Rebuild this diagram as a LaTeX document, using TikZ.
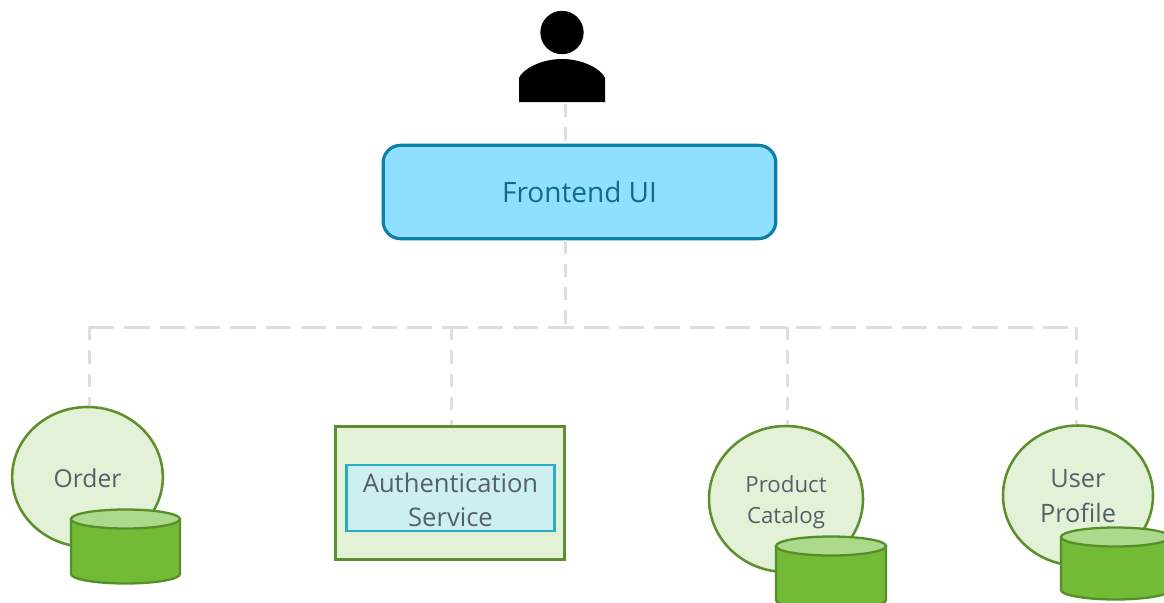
\documentclass[tikz,border=0pt]{standalone}
\usepackage{fontspec}
\setmainfont{Open Sans}
\definecolor{dashgray}{HTML}{DEDEDE}
\definecolor{uiborder}{HTML}{0E7FA6}
\definecolor{uifill}{HTML}{8FE0FF}
\definecolor{uitext}{HTML}{0F6A8C}
\definecolor{grnborder}{HTML}{5E8F2E}
\definecolor{grnfill}{HTML}{E3F1D7}
\definecolor{dbfill}{HTML}{73BA37}
\definecolor{dbtop}{HTML}{ACD98C}
\definecolor{dbborder}{HTML}{558F28}
\definecolor{innerborder}{HTML}{26AEC9}
\definecolor{innerfill}{HTML}{CDEFF2}
\definecolor{gtext}{HTML}{556068}
\tikzset{
  busline/.style={draw=dashgray,line width=2.25pt,dash pattern=on 19pt off 7.5pt},
  dropline/.style={draw=dashgray,line width=2.25pt,dash pattern=on 10pt off 7.5pt},
  svc/.style={draw=grnborder,fill=grnfill,line width=1.9pt,ellipse,inner sep=0pt},
  dbbody/.style={draw=dbborder,fill=dbfill,line width=1.7pt},
  dbcap/.style={draw=dbborder,fill=dbtop,line width=1.7pt},
}
\usetikzlibrary{shapes.geometric,calc}
\newcommand{\dbcyl}[4]{% left, right, cap centre y, bottom side y
  \path[dbbody] (#1,#3) -- (#1,#4) arc[start angle=180,end angle=0,x radius={(#2-#1)/2},y radius=9.5] -- (#2,#3) -- cycle;
  \path[dbcap] ({(#1+#2)/2},#3) ellipse[x radius={(#2-#1)/2},y radius=9.5];
}
\begin{document}
\begin{tikzpicture}[x=0.75pt,y=-0.75pt]
\useasboundingbox (0,0) rectangle (1164,603);
\fill[white] (0,0) rectangle (1164,603);

% person
\node[circle,fill=black,minimum size=32.5pt,inner sep=0pt] (head) at (562,32.5) {};
\fill[black] (519,102) -- (519,78) .. controls (522,70) and (540,59) .. (562,59) .. controls (584,59) and (602,70) .. (605,78) -- (605,102) -- cycle;
\coordinate (userbase) at (565,104);

% nodes
\node[draw=uiborder,fill=uifill,line width=2.4pt,rounded corners=13pt,minimum width=294.5pt,minimum height=70pt,inner sep=0pt,text=uitext,font=\fontsize{21}{25}\selectfont] (frontend) at (579.5,192) {Frontend UI};

\coordinate (busF) at (565,327);
\coordinate (busO) at (89,327);
\coordinate (busA) at (451,327);
\coordinate (busP) at (787,327);
\coordinate (busU) at (1076,327);

\node[svc,minimum width=113pt,minimum height=105pt] (order) at (87.5,477) {};
\node[svc,minimum width=115.5pt,minimum height=109.5pt] (catalog) at (786,499) {};
\node[svc,minimum width=112.5pt,minimum height=105pt] (profile) at (1078,495.5) {};
\node[draw=grnborder,fill=grnfill,line width=1.9pt,minimum width=171.5pt,minimum height=100pt,inner sep=0pt] (auth) at (450,493) {};
\node[draw=innerborder,fill=innerfill,line width=1.7pt,minimum width=156pt,minimum height=49pt,inner sep=0pt] (authin) at (450.5,498) {};

% connectors
\draw[dropline] (userbase) -- (userbase |- frontend.north);
\draw[dropline] (busF |- frontend.south) -- (busF);
\draw[busline] (busO) -- (busU);
\draw[dropline] (busO) -- (busO |- order.north);
\draw[dropline] (busA) -- (busA |- auth.north);
\draw[dropline] (busP) -- (busP |- catalog.north);
\draw[dropline] (busU) -- (busU |- profile.north);

% labels
\node[text=gtext,align=center,font=\fontsize{19.2}{25.5}\selectfont,inner sep=0pt] (authlbl) at (450.5,500) {Authentication\\Service};
\node[text=gtext,font=\fontsize{18.5}{22}\selectfont,inner sep=0pt] (orderlbl) at (87.5,478) {Order};
\node[text=gtext,align=center,font=\fontsize{16.7}{23}\selectfont,inner sep=0pt] (cataloglbl) at (786,502) {Product\\Catalog};
\node[text=gtext,align=center,font=\fontsize{19}{26}\selectfont,inner sep=0pt] (profilelbl) at (1078,496) {User\\Profile};

% databases
\dbcyl{71}{180}{519}{574}
\dbcyl{776}{886}{546}{600}
\dbcyl{1061}{1170}{537}{590}
\end{tikzpicture}
\end{document}
